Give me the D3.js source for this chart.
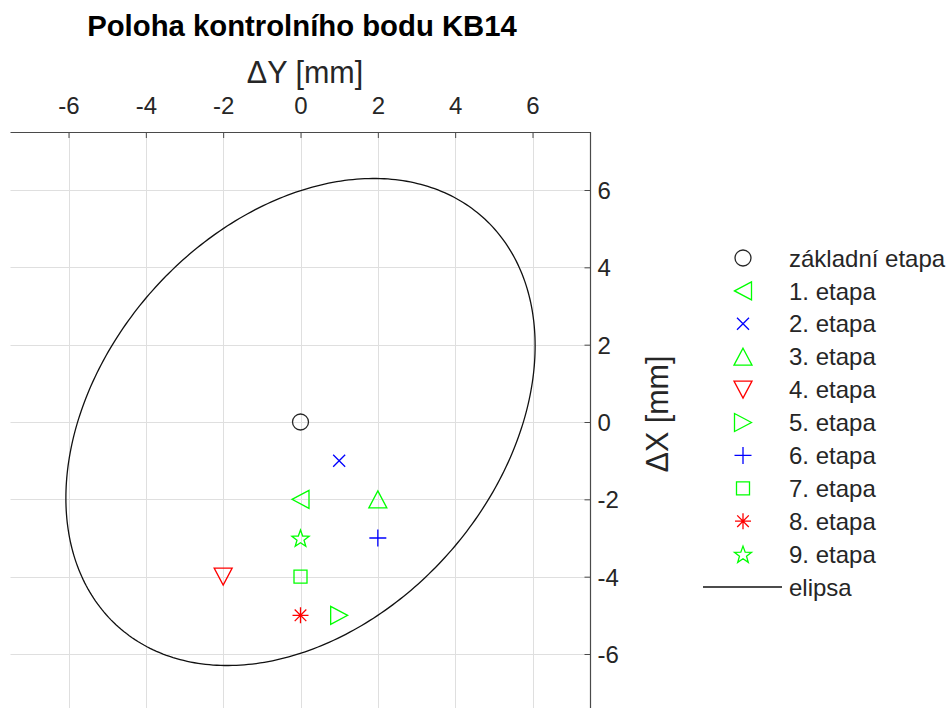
<!DOCTYPE html>
<html><head><meta charset="utf-8">
<script src="https://cdn.jsdelivr.net/npm/d3@7"></script>
<style>
html,body{margin:0;padding:0;background:#fff;}
svg{display:block;font-family:"Liberation Sans",Arial,Helvetica,sans-serif;}
</style></head>
<body><svg id="chart" width="951" height="708"></svg>
<script>
// ---- data ----
const titleText = "Poloha kontrolního bodu KB14";
const xLabel = "\u0394Y [mm]";
const yLabel = "\u0394X [mm]";
const xTicks = [-6, -4, -2, 0, 2, 4, 6];
const yTicks = [-6, -4, -2, 0, 2, 4, 6];
const seriesNames = ["základní etapa","1. etapa","2. etapa","3. etapa","4. etapa","5. etapa","6. etapa","7. etapa","8. etapa","9. etapa"];
const seriesDY = [0, 0, 1, 2, -2, 1, 2, 0, 0, 0];
const seriesDX = [0, -2, -1, -2, -4, -5, -3, -4, -5, -3];
const seriesMarkers = ["circle","triLeft","x","triUp","triDown","triRight","plus","square","asterisk","star"];
const seriesColors = ["#262626","#00ff00","#0000ff","#00ff00","#ff0000","#00ff00","#0000ff","#00ff00","#ff0000","#00ff00"];
const ellipseName = "elipsa";
const ellipseSemiAxes = [7.09, 5.12];   // mm
const ellipseAngleDeg = 48.4;           // rotation of major axis from ΔY axis

// ---- layout ----
const svg = d3.select("#chart");
const L = 10.5, R = 590.5, T = 132, B = 712;
const x = d3.scaleLinear().domain([-7.5, 7.5]).range([L, R]);
const y = d3.scaleLinear().domain([-7.5, 7.5]).range([B, T]);

const defs = svg.append("defs");
defs.append("clipPath").attr("id","clip").append("rect")
  .attr("x", L).attr("y", T).attr("width", R-L).attr("height", B-T);

// grid
const grid = svg.append("g");
grid.selectAll("line.gx").data(xTicks).join("line")
  .attr("x1", d=>Math.round(x(d))+0.5).attr("x2", d=>Math.round(x(d))+0.5)
  .attr("y1", T).attr("y2", B).attr("stroke","#dfdfdf").attr("stroke-width",1);
grid.selectAll("line.gy").data(yTicks).join("line")
  .attr("y1", d=>Math.round(y(d))+0.5).attr("y2", d=>Math.round(y(d))+0.5)
  .attr("x1", L).attr("x2", R).attr("stroke","#dfdfdf").attr("stroke-width",1);

// axes (top & right), ticks inward
const axisColor = "#4a4a4a";
const topAxis = d3.axisTop(x).tickValues(xTicks).tickSize(-6).tickFormat(d3.format("d"));
const rightAxis = d3.axisRight(y).tickValues(yTicks).tickSize(-6).tickFormat(d3.format("d"));

const gTop = svg.append("g").attr("transform", `translate(0,${T})`).call(topAxis);
gTop.select(".domain").remove();
gTop.selectAll(".tick line").attr("stroke", axisColor);
gTop.selectAll(".tick text").attr("y", -18).attr("dy", null)
  .attr("font-size", 24).attr("fill","#262626")
  .attr("font-family",'"Liberation Sans",Arial,sans-serif')
  .text(d => d < 0 ? "-" + Math.abs(d) : d);

const gRight = svg.append("g").attr("transform", `translate(${R},0)`).call(rightAxis);
gRight.select(".domain").remove();
gRight.selectAll(".tick line").attr("stroke", axisColor);
gRight.selectAll(".tick text").attr("x", 7).attr("dy", "0.36em")
  .attr("font-size", 24).attr("fill","#262626")
  .attr("font-family",'"Liberation Sans",Arial,sans-serif')
  .text(d => d < 0 ? "-" + Math.abs(d) : d);

svg.append("line").attr("x1", L).attr("x2", R).attr("y1", T+0.5).attr("y2", T+0.5)
  .attr("stroke", axisColor).attr("stroke-width", 1.2);
svg.append("line").attr("x1", R).attr("x2", R).attr("y1", T).attr("y2", B)
  .attr("stroke", axisColor).attr("stroke-width", 1.2);

// ellipse
const a = ellipseSemiAxes[0], b = ellipseSemiAxes[1], th = ellipseAngleDeg*Math.PI/180;
const ts = d3.range(0, 361, 1).map(t => t*Math.PI/180);
const ellPts = ts.map(t => [a*Math.cos(t)*Math.cos(th) - b*Math.sin(t)*Math.sin(th),
                            a*Math.cos(t)*Math.sin(th) + b*Math.sin(t)*Math.cos(th)]);
svg.append("path").attr("clip-path","url(#clip)")
  .attr("d", d3.line().x(p=>x(p[0])).y(p=>y(p[1]))(ellPts))
  .attr("fill","none").attr("stroke","#111").attr("stroke-width",1.3);

// markers
function markerPath(type){
  const p = d3.path();
  switch(type){
    case "circle": p.moveTo(8,0); p.arc(0,0,8,0,2*Math.PI); break;
    case "triLeft": p.moveTo(-8.5,0); p.lineTo(8.5,-9); p.lineTo(8.5,9); p.closePath(); break;
    case "triRight": p.moveTo(8.5,0); p.lineTo(-8.5,-9); p.lineTo(-8.5,9); p.closePath(); break;
    case "triUp": p.moveTo(0,-8.5); p.lineTo(9,8.5); p.lineTo(-9,8.5); p.closePath(); break;
    case "triDown": p.moveTo(0,8.5); p.lineTo(9,-8.5); p.lineTo(-9,-8.5); p.closePath(); break;
    case "square": p.rect(-6.5,-6.5,13,13); break;
    case "x": p.moveTo(-6,-6); p.lineTo(6,6); p.moveTo(-6,6); p.lineTo(6,-6); break;
    case "plus": p.moveTo(-8.5,0); p.lineTo(8.5,0); p.moveTo(0,-8.5); p.lineTo(0,8.5); break;
    case "asterisk":
      p.moveTo(-8,0); p.lineTo(8,0); p.moveTo(0,-8); p.lineTo(0,8);
      p.moveTo(-5.8,-5.8); p.lineTo(5.8,5.8); p.moveTo(-5.8,5.8); p.lineTo(5.8,-5.8); break;
    case "star": {
      const ro = 9, ri = 3.7;
      for(let i=0;i<10;i++){
        const r = i%2===0 ? ro : ri;
        const ang = -Math.PI/2 + i*Math.PI/5;
        const px = r*Math.cos(ang), py = r*Math.sin(ang)+1;
        if(i===0) p.moveTo(px,py); else p.lineTo(px,py);
      }
      p.closePath(); break;
    }
  }
  return p.toString();
}

const pts = seriesNames.map((n,i)=>({name:n, dy:seriesDY[i], dx:seriesDX[i], m:seriesMarkers[i], c:seriesColors[i]}));
svg.append("g").attr("clip-path","url(#clip)").selectAll("path").data(pts).join("path")
  .attr("transform", d=>`translate(${x(d.dy)},${y(d.dx)})`)
  .attr("d", d=>markerPath(d.m))
  .attr("fill","none").attr("stroke", d=>d.c).attr("stroke-width",1.3);

// titles
svg.append("text").attr("x", 302).attr("y", 36).attr("text-anchor","middle")
  .attr("font-size", 29.3).attr("font-weight","bold").attr("fill","#000").text(titleText);
svg.append("text").attr("x", 305).attr("y", 83).attr("text-anchor","middle")
  .attr("font-size", 30.5).attr("fill","#262626").text(xLabel);
svg.append("text").attr("transform","translate(668,414) rotate(-90)").attr("text-anchor","middle")
  .attr("font-size", 30.5).attr("fill","#262626").text(yLabel);

// legend
const legY0 = 258, legDY = 32.9, legMX = 743, legTX = 789;
const leg = svg.append("g");
pts.forEach((d,i)=>{
  leg.append("path").attr("transform",`translate(${legMX},${legY0+i*legDY})`)
    .attr("d", markerPath(d.m)).attr("fill","none").attr("stroke",d.c).attr("stroke-width",1.3);
  leg.append("text").attr("x", legTX).attr("y", legY0+i*legDY).attr("dy","0.36em")
    .attr("font-size", 24).attr("fill","#262626").text(d.name);
});
const ly = legY0 + seriesNames.length*legDY;
leg.append("line").attr("x1",703).attr("x2",782).attr("y1",ly).attr("y2",ly)
  .attr("stroke","#111").attr("stroke-width",1.3);
leg.append("text").attr("x", legTX).attr("y", ly).attr("dy","0.36em")
  .attr("font-size", 24).attr("fill","#262626").text(ellipseName);
</script></body></html>
